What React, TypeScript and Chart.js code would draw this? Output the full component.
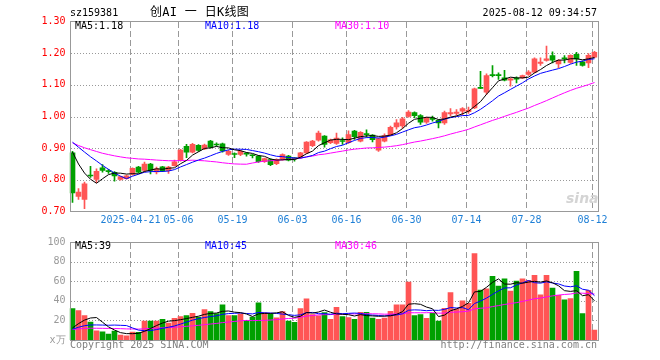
import React, { useEffect, useRef } from 'react';
import { Chart, registerables } from 'chart.js';

Chart.register(...registerables);

const YEAR = '2025';
const DATES = ['04-07','04-08','04-09','04-10','04-11','04-14','04-15','04-16','04-17','04-18','04-21','04-22','04-23','04-24','04-25','04-28','04-29','04-30','05-06','05-07','05-08','05-09','05-12','05-13','05-14','05-15','05-16','05-19','05-20','05-21','05-22','05-23','05-26','05-27','05-28','05-29','05-30','06-03','06-04','06-05','06-06','06-09','06-10','06-11','06-12','06-13','06-16','06-17','06-18','06-19','06-20','06-23','06-24','06-25','06-26','06-27','06-30','07-01','07-02','07-03','07-04','07-07','07-08','07-09','07-10','07-11','07-14','07-15','07-16','07-17','07-18','07-21','07-22','07-23','07-24','07-25','07-28','07-29','07-30','07-31','08-01','08-04','08-05','08-06','08-07','08-08','08-11','08-12'];
const TICK_DATES = ['04-21','05-06','05-19','06-03','06-16','06-30','07-14','07-28','08-12'];

const OPEN = [0.885,0.748,0.738,0.815,0.801,0.838,0.828,0.824,0.801,0.804,0.817,0.840,0.830,0.850,0.825,0.841,0.829,0.845,0.864,0.906,0.887,0.909,0.898,0.922,0.912,0.914,0.880,0.882,0.880,0.883,0.878,0.875,0.857,0.864,0.851,0.866,0.875,0.868,0.871,0.885,0.908,0.925,0.938,0.917,0.915,0.923,0.917,0.954,0.922,0.945,0.941,0.894,0.922,0.943,0.967,0.970,1.000,1.012,1.003,0.982,0.993,0.988,0.980,1.008,1.010,1.017,1.015,1.027,1.092,1.077,1.132,1.131,1.122,1.115,1.120,1.122,1.133,1.140,1.168,1.177,1.192,1.166,1.184,1.171,1.196,1.173,1.169,1.187];
const HIGH = [0.890,0.772,0.793,0.843,0.835,0.848,0.833,0.826,0.812,0.815,0.838,0.843,0.856,0.852,0.840,0.843,0.843,0.862,0.896,0.912,0.915,0.911,0.913,0.925,0.917,0.916,0.893,0.885,0.893,0.886,0.880,0.877,0.869,0.866,0.866,0.882,0.877,0.870,0.887,0.921,0.925,0.954,0.940,0.929,0.948,0.933,0.955,0.956,0.952,0.958,0.943,0.932,0.945,0.970,0.990,0.997,1.019,1.015,1.006,0.998,1.001,0.990,1.017,1.025,1.022,1.028,1.030,1.090,1.143,1.135,1.161,1.138,1.146,1.121,1.125,1.131,1.145,1.185,1.185,1.222,1.204,1.180,1.192,1.195,1.203,1.175,1.199,1.206];
const LOW = [0.729,0.738,0.709,0.808,0.791,0.824,0.820,0.796,0.799,0.802,0.815,0.822,0.824,0.819,0.819,0.826,0.820,0.843,0.859,0.870,0.885,0.890,0.895,0.900,0.906,0.887,0.877,0.870,0.876,0.875,0.869,0.855,0.855,0.845,0.848,0.862,0.860,0.859,0.868,0.883,0.905,0.922,0.903,0.914,0.912,0.912,0.915,0.928,0.920,0.935,0.920,0.890,0.920,0.940,0.960,0.963,0.998,0.996,0.975,0.978,0.985,0.964,0.975,1.003,1.004,1.005,1.010,1.025,1.088,1.070,1.125,1.117,1.112,1.096,1.106,1.120,1.130,1.138,1.161,1.175,1.169,1.154,1.169,1.168,1.161,1.159,1.154,1.185];
const CLOSE = [0.759,0.761,0.787,0.812,0.827,0.830,0.826,0.812,0.810,0.813,0.836,0.824,0.850,0.830,0.835,0.828,0.840,0.857,0.894,0.887,0.912,0.893,0.910,0.903,0.910,0.891,0.890,0.880,0.890,0.881,0.876,0.857,0.867,0.848,0.864,0.880,0.862,0.866,0.885,0.919,0.922,0.948,0.912,0.926,0.932,0.921,0.943,0.936,0.950,0.943,0.927,0.930,0.940,0.966,0.980,0.993,1.014,1.003,0.982,0.996,0.991,0.980,1.012,1.012,1.014,1.025,1.020,1.087,1.089,1.129,1.129,1.129,1.115,1.119,1.118,1.129,1.140,1.182,1.172,1.182,1.178,1.177,1.182,1.193,1.182,1.161,1.193,1.203];
const VOLUME = [32,30,25,18.3,9.3,8.3,6,9,5,4.3,8,7.7,19.3,19.3,19.3,21,17.3,22,24,25,27.3,23.3,31,29,27,36,25,25,26.7,20,23.3,38,27.7,26.7,22.7,29,19.3,18,32,42,26,24.7,28,21,33.3,24,23,21,28.3,28.3,22.3,21,22.3,29.3,36,36,59,25,26,22,27.3,19.3,32.3,48.3,31.5,40,37.3,88.3,51,52.3,65,55,62.3,50,60,62.3,61,66,46,66,53,45.7,41,42.3,70,27,50.7,10];

// estimated history before the first shown day (only used for the moving averages)
const PRIOR_CLOSE = [1.01,1.00,0.99,1.00,1.00,0.95,0.93,0.91,0.90,0.89,0.88,0.87,0.87,0.88,0.86,0.87,0.86,0.87,0.88,0.89,0.92,0.94,0.96,0.96,0.97,0.95,0.93,0.91,0.89];
const PRIOR_VOLUME = [11,10,12,10,11,9,11,10,12,10,11,10,9,11,10,11,10,11,10,11,10,9,11,9,9.5,8,7,7.5,7];

const PRICE_LEGEND = ['MA5:1.18', 'MA10:1.18', 'MA30:1.10'];
const VOLUME_LEGEND = ['MA5:39', 'MA10:45', 'MA30:46'];

const RED = '#ff5555';
const GREEN = '#00a000';
const MA_COLORS = ['#000000', '#0000ff', '#ff00ff'];
const GRID = '#999999';
const BOX = '#999999';
const MONO = "'DejaVu Sans Mono', monospace";

function movingAvg(prior: number[], values: number[], n: number): number[] {
  const all = prior.concat(values);
  const off = prior.length;
  return values.map((_, i) => {
    let s = 0;
    for (let k = 0; k < n; k++) s += all[off + i - k];
    return s / n;
  });
}

const near = (v: number, w: number) => Math.abs(v - w) < 1e-6;

function drawGrid(chart: any) {
  const { ctx, chartArea: a, scales } = chart;
  const xs = scales.x;
  const ys = scales.y;
  if (!a || !xs || !ys) return;
  ctx.save();
  ctx.strokeStyle = GRID;
  ctx.lineWidth = 1;
  ctx.setLineDash([6, 3]);
  for (const d of TICK_DATES) {
    const idx = DATES.indexOf(d);
    const px = Math.floor(xs.getPixelForValue(idx) - 2) + 0.5;
    ctx.beginPath();
    ctx.moveTo(px, Math.floor(a.top) + 1);
    ctx.lineTo(px, Math.floor(a.bottom));
    ctx.stroke();
  }
  ctx.setLineDash([1, 2]);
  for (const t of ys.ticks) {
    if (near(t.value, ys.min) || near(t.value, ys.max)) continue;
    const py = Math.round(ys.getPixelForValue(t.value)) + 0.5;
    ctx.beginPath();
    ctx.moveTo(Math.round(a.left) + 1, py);
    ctx.lineTo(Math.round(a.right), py);
    ctx.stroke();
  }
  ctx.restore();
}

const panelPlugin = {
  id: 'panelFrame',
  beforeDatasetsDraw(chart: any) {
    drawGrid(chart);
  },
  afterDraw(chart: any) {
    const { ctx, chartArea: a } = chart;
    ctx.save();
    ctx.strokeStyle = BOX;
    ctx.lineWidth = 1;
    ctx.setLineDash([]);
    const l = Math.round(a.left) + 0.5;
    const r = Math.round(a.right) + 0.5;
    const t = Math.floor(a.top) + 0.5;
    const b = Math.floor(a.bottom) + 0.5;
    ctx.strokeRect(l, t, r - l, b - t);
    ctx.restore();
  },
};

export default function App() {
  const priceRef = useRef<HTMLCanvasElement>(null);
  const volRef = useRef<HTMLCanvasElement>(null);

  useEffect(() => {
    document.body.style.margin = '0';
    const colors = CLOSE.map((c, i) => (c >= OPEN[i] ? RED : GREEN));
    const filterTicks = (axis: any) => {
      axis.ticks = axis.ticks.filter((t: any) => TICK_DATES.includes(DATES[t.value]));
    };
    const maLines = (prior: number[], vals: number[]) =>
      [5, 10, 30].map((n, k) => ({
        type: 'line' as const,
        label: 'MA' + n,
        data: movingAvg(prior, vals, n),
        borderColor: MA_COLORS[k],
        borderWidth: 1,
        pointRadius: 0,
        tension: 0,
        fill: false,
        order: 0,
      }));

    const price = new Chart(priceRef.current!, {
      type: 'bar',
      data: {
        labels: DATES,
        datasets: [
          ...maLines(PRIOR_CLOSE, CLOSE),
          {
            type: 'bar',
            label: 'body',
            data: OPEN.map((o, i) => [o, CLOSE[i]]),
            backgroundColor: colors,
            barThickness: 5,
            grouped: false,
            minBarLength: 1,
            borderWidth: 0,
            order: 1,
          },
          {
            type: 'bar',
            label: 'wick',
            data: LOW.map((l, i) => [l, HIGH[i]]),
            backgroundColor: colors,
            barThickness: 1,
            grouped: false,
            borderWidth: 0,
            order: 2,
          },
        ] as any,
      },
      options: {
        responsive: false,
        animation: false,
        devicePixelRatio: 1,
        events: [],
        layout: { padding: { left: 0, right: 62.5, top: 21.5, bottom: 0 } },
        plugins: { legend: { display: false }, tooltip: { enabled: false } },
        scales: {
          x: {
            type: 'category',
            offset: true,
            ticks: {
              autoSkip: false,
              maxRotation: 0,
              color: '#1e7fd6',
              font: { family: MONO, size: 10 },
              padding: 3,
              labelOffset: -2,
              callback: (v: any, idx: number) => (idx === 0 ? YEAR + '-' : '') + DATES[v],
            },
            grid: { display: false, drawTicks: false },
            border: { display: false },
            afterBuildTicks: filterTicks,
            afterFit: (a: any) => { a.height = 20.5; },
          },
          y: {
            min: 0.7,
            max: 1.3,
            ticks: {
              stepSize: 0.1,
              color: '#ff0000',
              font: { family: MONO, size: 10 },
              padding: 4,
              callback: (v: any) => Number(v).toFixed(2),
            },
            grid: { display: false, drawTicks: false },
            border: { display: false },
            afterFit: (a: any) => { a.width = 69.5; },
          },
        },
      } as any,
      plugins: [panelPlugin],
    });

    const volume = new Chart(volRef.current!, {
      type: 'bar',
      data: {
        labels: DATES,
        datasets: [
          ...maLines(PRIOR_VOLUME, VOLUME),
          {
            type: 'bar',
            label: 'volume',
            data: VOLUME,
            backgroundColor: colors,
            barThickness: 5,
            borderWidth: 0,
            order: 1,
          },
        ] as any,
      },
      options: {
        responsive: false,
        animation: false,
        devicePixelRatio: 1,
        events: [],
        layout: { padding: { left: 0, right: 62.5, top: 8, bottom: 20 } },
        plugins: { legend: { display: false }, tooltip: { enabled: false } },
        scales: {
          x: {
            type: 'category',
            offset: true,
            ticks: { display: false, autoSkip: false },
            grid: { display: false, drawTicks: false },
            border: { display: false },
            afterBuildTicks: filterTicks,
            afterFit: (a: any) => { a.height = 0; },
          },
          y: {
            min: 0,
            max: 100,
            ticks: {
              stepSize: 20,
              color: '#999999',
              font: { family: MONO, size: 10 },
              padding: 4,
              callback: (v: any) => (Number(v) === 0 ? 'x万' : String(v)),
            },
            grid: { display: false, drawTicks: false },
            border: { display: false },
            afterFit: (a: any) => { a.width = 69.5; },
          },
        },
      } as any,
      plugins: [panelPlugin],
    });

    return () => {
      price.destroy();
      volume.destroy();
    };
  }, []);

  const txt = (extra: React.CSSProperties): React.CSSProperties => ({
    position: 'absolute',
    whiteSpace: 'pre',
    fontFamily: MONO,
    fontSize: 10,
    lineHeight: '12px',
    ...extra,
  });

  return (
    <div style={{ position: 'relative', width: 660, height: 360, background: '#ffffff', overflow: 'hidden' }}>
      <canvas ref={priceRef} width={660} height={232} style={{ position: 'absolute', left: 0, top: 0, width: 660, height: 232 }} />
      <canvas ref={volRef} width={660} height={128} style={{ position: 'absolute', left: 0, top: 232, width: 660, height: 128 }} />

      <div style={txt({ left: 70, top: 7, color: '#000' })}>sz159381</div>
      <div style={txt({ left: 150, top: 5, color: '#000', fontFamily: "'DejaVu Sans Mono', 'Noto Sans CJK SC', monospace", fontSize: 12, lineHeight: '14px', letterSpacing: '0.3px' })}>创AI 一 日K线图</div>
      <div style={txt({ right: 63, top: 7, color: '#000' })}>2025-08-12 09:34:57</div>

      <div style={txt({ left: 75, top: 20, color: MA_COLORS[0] })}>{PRICE_LEGEND[0]}</div>
      <div style={txt({ left: 205, top: 20, color: MA_COLORS[1] })}>{PRICE_LEGEND[1]}</div>
      <div style={txt({ left: 335, top: 20, color: MA_COLORS[2] })}>{PRICE_LEGEND[2]}</div>

      <div style={txt({ left: 75, top: 240, color: MA_COLORS[0] })}>{VOLUME_LEGEND[0]}</div>
      <div style={txt({ left: 205, top: 240, color: MA_COLORS[1] })}>{VOLUME_LEGEND[1]}</div>
      <div style={txt({ left: 335, top: 240, color: MA_COLORS[2] })}>{VOLUME_LEGEND[2]}</div>

      <div style={txt({ left: 566, top: 190, color: '#d4d4d4', fontFamily: "'DejaVu Sans', sans-serif", fontSize: 14, fontStyle: 'italic', fontWeight: 'bold', lineHeight: '16px' })}>sina</div>

      <div style={txt({ left: 70, top: 339, color: '#808080' })}>Copyright 2025 SINA.COM</div>
      <div style={txt({ right: 63, top: 339, color: '#808080' })}>http://finance.sina.com.cn</div>
    </div>
  );
}
